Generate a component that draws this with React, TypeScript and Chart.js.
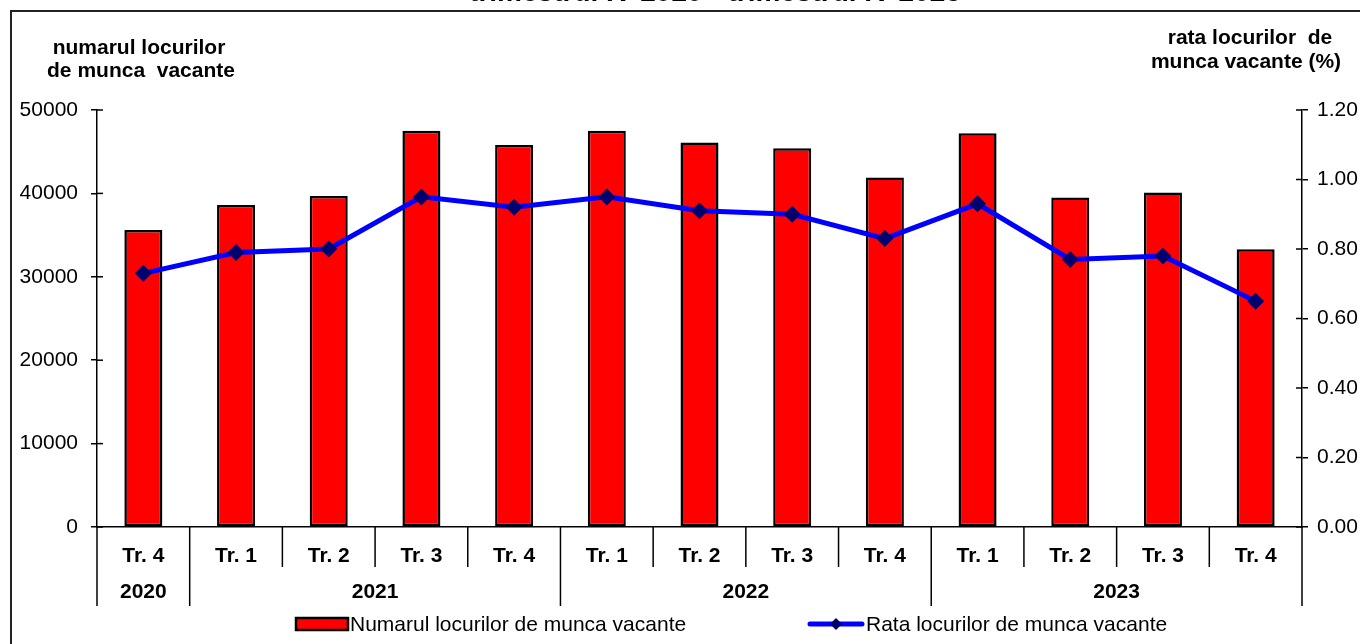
import React, { useEffect, useRef } from "react";
import { Chart, registerables } from "chart.js";

Chart.register(...registerables);

const quarters = ["Tr. 4", "Tr. 1", "Tr. 2", "Tr. 3", "Tr. 4", "Tr. 1", "Tr. 2", "Tr. 3", "Tr. 4", "Tr. 1", "Tr. 2", "Tr. 3", "Tr. 4"];
const years = ["2020", "2021", "2022", "2023"];
const yearSpans = [1, 4, 4, 4];
const vacancies = [35600, 38600, 39700, 47500, 45800, 47500, 46100, 45400, 41900, 47200, 39500, 40100, 33300];
const rates = [0.73, 0.79, 0.8, 0.95, 0.92, 0.95, 0.91, 0.9, 0.83, 0.93, 0.77, 0.78, 0.65];
const leftTitle = ["numarul locurilor", "de munca  vacante"];
const rightTitle = ["rata locurilor  de", "munca vacante (%)"];
const chartTitle = "trimestrul IV 2020 - trimestrul IV 2023";
const barLabel = "Numarul locurilor de munca vacante";
const lineLabel = "Rata locurilor de munca vacante";

const FONT = "'Liberation Sans', Arial, sans-serif";

const decorPlugin = {
  id: "decor",
  afterDraw(chart: any) {
    const ctx = chart.ctx as CanvasRenderingContext2D;
    const x = chart.scales.x;
    const yL = chart.scales.y;
    const yR = chart.scales.y1;
    const area = chart.chartArea;
    const bottom = area.bottom;
    ctx.save();
    // outer frame
    ctx.strokeStyle = "#222";
    ctx.lineWidth = 2;
    ctx.beginPath();
    ctx.moveTo(11, 700);
    ctx.lineTo(11, 11);
    ctx.lineTo(1400, 11);
    ctx.stroke();

    // top title (cut off)
    ctx.fillStyle = "#000";
    ctx.font = `bold 28px ${FONT}`;
    ctx.textAlign = "center";
    ctx.textBaseline = "alphabetic";
    ctx.fillText(chartTitle, 715, 1);

    // axis titles
    ctx.font = `bold 21px ${FONT}`;
    ctx.fillText(leftTitle[0], 139, 54);
    ctx.fillText(leftTitle[1], 141, 77);
    ctx.fillText(rightTitle[0], 1250, 44);
    ctx.fillText(rightTitle[1], 1246, 68);

    // inner y ticks
    ctx.strokeStyle = "#000";
    ctx.lineWidth = 1.5;
    yL.ticks.forEach((t: any) => {
      const py = yL.getPixelForValue(t.value);
      ctx.beginPath();
      ctx.moveTo(area.left, py);
      ctx.lineTo(area.left + 6, py);
      ctx.stroke();
    });
    yR.ticks.forEach((t: any) => {
      const py = yR.getPixelForValue(t.value);
      ctx.beginPath();
      ctx.moveTo(area.right - 6, py);
      ctx.lineTo(area.right, py);
      ctx.stroke();
    });

    // category separators
    const n = quarters.length;
    const step = (area.right - area.left) / n;
    const yearBounds = new Set<number>();
    let acc = 0;
    yearBounds.add(0);
    yearSpans.forEach((s) => {
      acc += s;
      yearBounds.add(acc);
    });
    for (let i = 0; i <= n; i++) {
      const px = area.left + i * step;
      ctx.beginPath();
      ctx.moveTo(px, bottom);
      ctx.lineTo(px, yearBounds.has(i) ? 606 : 567);
      ctx.stroke();
    }

    // year labels
    ctx.font = `bold 21px ${FONT}`;
    ctx.textBaseline = "middle";
    acc = 0;
    years.forEach((yr, i) => {
      const startIdx = acc;
      acc += yearSpans[i];
      const cx = (x.getPixelForValue(startIdx) + x.getPixelForValue(acc - 1)) / 2;
      ctx.fillText(yr, cx, 592);
    });

    // legend
    const ly = 624;
    ctx.fillStyle = "#FF0000";
    ctx.fillRect(296, 618, 52, 12);
    ctx.strokeStyle = "#000";
    ctx.lineWidth = 2.5;
    ctx.strokeRect(296, 618, 52, 12);
    ctx.fillStyle = "#000";
    ctx.font = `21px ${FONT}`;
    ctx.textAlign = "left";
    ctx.fillText(barLabel, 350, ly + 1);

    ctx.strokeStyle = "#0000FF";
    ctx.lineWidth = 5;
    ctx.lineCap = "round";
    ctx.beginPath();
    ctx.moveTo(810, ly);
    ctx.lineTo(862, ly);
    ctx.stroke();
    ctx.fillStyle = "#00006E";
    ctx.beginPath();
    ctx.moveTo(836, ly - 6);
    ctx.lineTo(842, ly);
    ctx.lineTo(836, ly + 6);
    ctx.lineTo(830, ly);
    ctx.closePath();
    ctx.fill();
    ctx.fillStyle = "#000";
    ctx.fillText(lineLabel, 866, ly + 1);
    ctx.restore();
  },
};

export default function App() {
  const ref = useRef<HTMLCanvasElement | null>(null);
  useEffect(() => {
    if (!ref.current) return;
    const chart = new Chart(ref.current, {
      type: "bar",
      data: {
        labels: quarters,
        datasets: [
          {
            type: "line",
            label: lineLabel,
            data: rates,
            yAxisID: "y1",
            borderColor: "#0000FF",
            borderWidth: 5,
            pointStyle: "rectRot",
            pointRadius: 8.5,
            pointBackgroundColor: "#00006E",
            pointBorderColor: "#00006E",
            pointBorderWidth: 0,
            tension: 0,
            order: 0,
          } as any,
          {
            type: "bar",
            label: barLabel,
            data: vacancies,
            yAxisID: "y",
            backgroundColor: "#FF0000",
            borderColor: "#000",
            borderWidth: 2.5,
            borderSkipped: false,
            barPercentage: 0.41,
            categoryPercentage: 1,
            order: 1,
          },
        ],
      },
      options: {
        animation: false,
        responsive: false,
        maintainAspectRatio: false,
        layout: { padding: { top: 110, left: 0, right: 0, bottom: 0 } },
        plugins: {
          legend: { display: false },
          tooltip: { enabled: false },
          title: { display: false },
        },
        scales: {
          x: {
            offset: true,
            grid: { display: false, drawTicks: false, tickLength: 0 },
            border: { display: true, color: "#000", width: 1.5 },
            ticks: {
              color: "#000",
              font: { family: FONT, size: 21, weight: "bold" },
              padding: 17,
              maxRotation: 0,
              autoSkip: false,
            },
            afterFit(scale: any) {
              scale.height = 117;
            },
          },
          y: {
            position: "left",
            min: 0,
            max: 50000,
            grid: { drawOnChartArea: false, drawTicks: true, tickLength: 6, color: "#000", lineWidth: 1.5 },
            border: { display: true, color: "#000", width: 1.5 },
            ticks: {
              stepSize: 10000,
              color: "#000",
              padding: 13,
              font: { family: FONT, size: 21 },
              callback: (v: any) => String(v),
            },
            afterFit(scale: any) {
              scale.width = 97;
            },
          },
          y1: {
            position: "right",
            min: 0,
            max: 1.2,
            grid: { drawOnChartArea: false, drawTicks: true, tickLength: 6, color: "#000", lineWidth: 1.5 },
            border: { display: true, color: "#000", width: 1.5 },
            ticks: {
              stepSize: 0.2,
              color: "#000",
              padding: 9,
              font: { family: FONT, size: 21 },
              callback: (v: any) => Number(v).toFixed(2),
            },
            afterFit(scale: any) {
              scale.width = 58;
            },
          },
        },
      },
      plugins: [decorPlugin],
    });
    return () => chart.destroy();
  }, []);
  return (
    <div style={{ position: "absolute", left: 0, top: 0, width: 1360, height: 644, overflow: "hidden", background: "#fff" }}>
      <canvas ref={ref} width={1360} height={644} style={{ width: 1360, height: 644, display: "block" }} />
    </div>
  );
}
